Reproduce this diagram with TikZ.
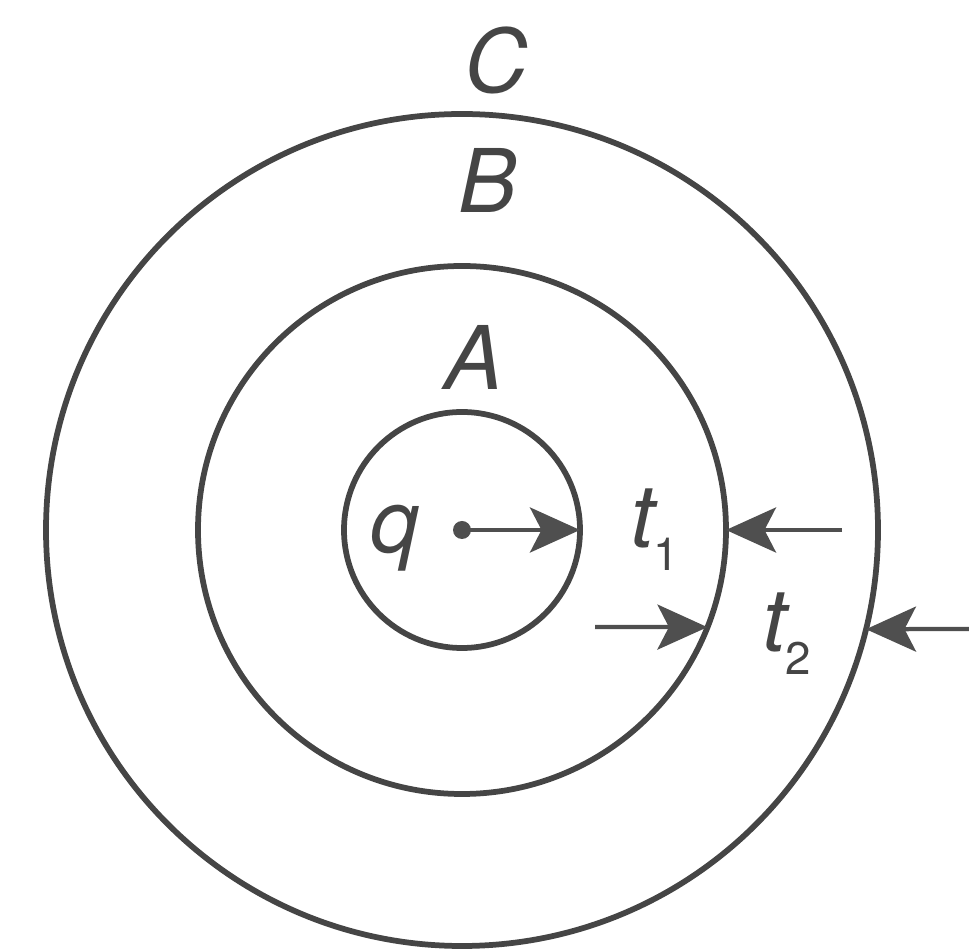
\documentclass[tikz,border=0pt]{standalone}
\usepackage{fontspec}
\setmainfont{TeX Gyre Heros}
\usetikzlibrary{arrows.meta,calc}
\definecolor{ink}{HTML}{454545}
\definecolor{arrc}{HTML}{4F4F4F}
\tikzset{
  shell/.style={ink,line width=1.15mm},
  arr/.style={arrc,line width=0.85mm,-{Stealth[length=10mm,width=9mm,inset=2.3mm]}},
  dot/.style={circle,fill=arrc,inner sep=0pt,minimum size=3.6mm},
  lbl/.style={font=\fontsize{50}{50}\selectfont\itshape,text=ink,inner sep=0pt,anchor=base},
  tlbl/.style={lbl,anchor=base west},
}
\newcommand{\lsub}[1]{\kern-0.3mm\raisebox{-4.6mm}{\fontsize{26}{26}\selectfont\upshape #1}}

\begin{document}
\begin{tikzpicture}[x=0.2mm,y=-0.2mm]
  \useasboundingbox (0,0) rectangle (969,950);
  % ---------- the three spheres ----------
  \coordinate (O) at (462,530);
  \draw[shell] (O) circle[radius=118];
  \draw[shell] (O) circle[radius=264];
  \draw[shell] (O) circle[radius=416];
  % ---------- labels ----------
  \node[lbl] (labC) at (496,93) {C};
  \node[lbl] (labB) at (488,213) {B};
  \node[lbl] (labA) at (474,390) {A};
  \node[lbl] (labq) at (395,553) {q};
  \node[tlbl] (labt1) at (630,548) {t\lsub{1}};
  \node[tlbl] (labt2) at (762,652) {t\lsub{2}};
  % ---------- radius and thickness arrows ----------
  \node[dot] (q0) at (O) {};
  \coordinate (rA) at ($(O)+(118,0)$);
  \draw[arr] (q0.center) -- (rA);
  \coordinate (t1a) at (595,627);
  \coordinate (t1b) at ($(O)+(21.6:264)$);
  \draw[arr] (t1a) -- (t1b);
  \coordinate (t1c) at (842,530);
  \coordinate (t1d) at ($(O)+(264,0)$);
  \draw[arr] (t1c) -- (t1d);
  \coordinate (t2a) at (969,629);
  \coordinate (t2b) at ($(O)+(13.8:416)$);
  \draw[arr] (t2a) -- (t2b);
\end{tikzpicture}
\end{document}
